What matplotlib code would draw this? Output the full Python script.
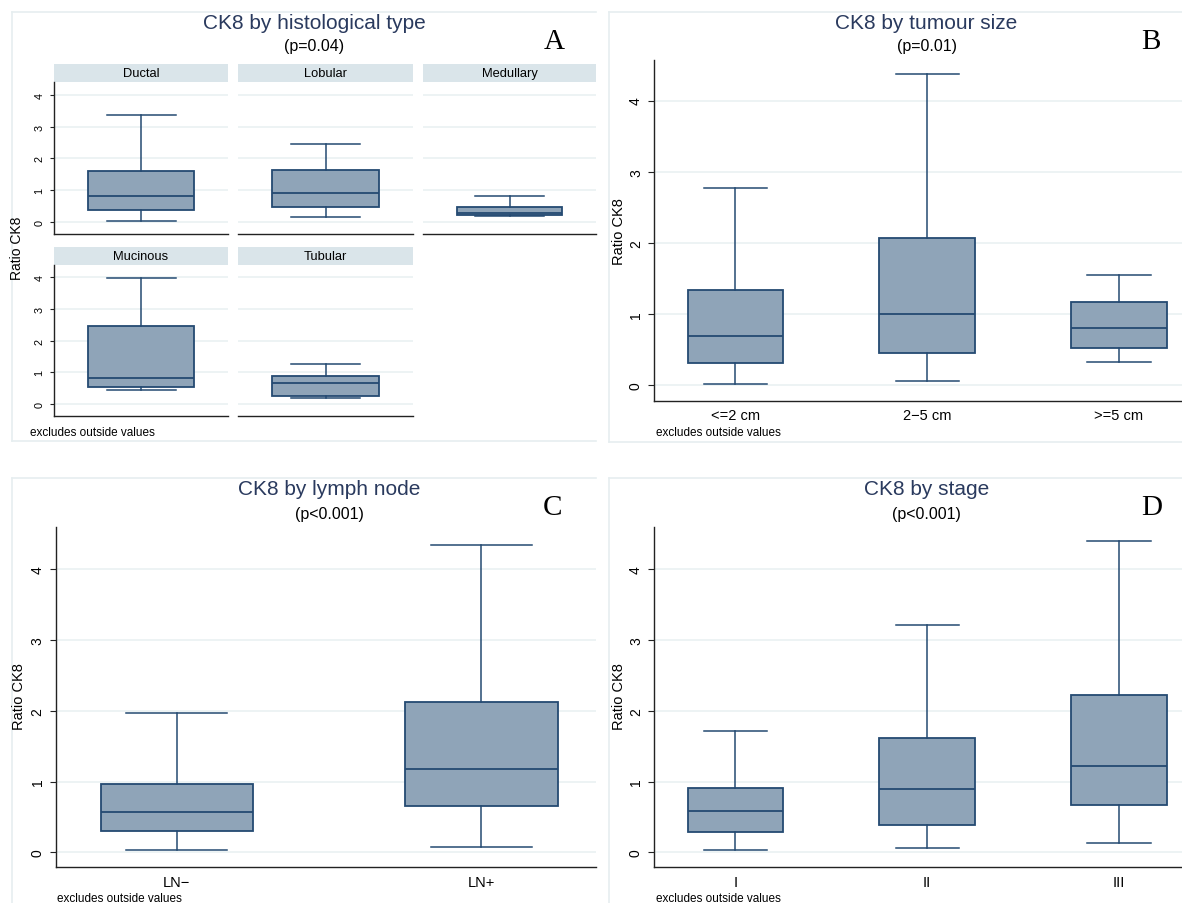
import matplotlib
matplotlib.use('Agg')
import matplotlib.pyplot as plt
from matplotlib.lines import Line2D

plt.rcParams['font.family'] = ['Liberation Sans', 'DejaVu Sans']

W, H = 1182, 904

# ---- data ----
type_labels = ['Ductal', 'Lobular', 'Medullary', 'Mucinous', 'Tubular']
type_low = [0.03, 0.15, 0.20, 0.43, 0.18]
type_q1 = [0.38, 0.47, 0.22, 0.52, 0.25]
type_med = [0.83, 0.92, 0.28, 0.81, 0.64]
type_q3 = [1.60, 1.62, 0.47, 2.46, 0.89]
type_high = [3.35, 2.46, 0.80, 3.98, 1.26]

size_labels = ['<=2 cm', '2\u22125 cm', '>=5 cm']
size_low = [0.02, 0.06, 0.33]
size_q1 = [0.32, 0.45, 0.53]
size_med = [0.69, 1.00, 0.80]
size_q3 = [1.34, 2.07, 1.165]
size_high = [2.77, 4.37, 1.55]

node_labels = ['LN\u2212', 'LN+']
node_low = [0.03, 0.08]
node_q1 = [0.30, 0.65]
node_med = [0.57, 1.17]
node_q3 = [0.97, 2.13]
node_high = [1.97, 4.34]

stage_labels = ['I', 'II', 'III']
stage_low = [0.03, 0.06, 0.13]
stage_q1 = [0.29, 0.39, 0.67]
stage_med = [0.58, 0.90, 1.22]
stage_q3 = [0.905, 1.61, 2.22]
stage_high = [1.71, 3.21, 4.40]

yticks = [0, 1, 2, 3, 4]

# ---- styles ----
FILL = '#8fa4b8'
EDGE = '#244a72'
GRID = '#e8f0f1'
STRIP = '#dae5ea'
FRAME = '#e6eef0'
TITLE = '#2a3a5e'
AXC = '#222222'

fig = plt.figure(figsize=(W / 100, H / 100), dpi=100)


def px_axes(left, top, right, bottom, **kw):
    return fig.add_axes([left / W, 1 - bottom / H, (right - left) / W, (bottom - top) / H], **kw)


def ftext(x, y, s, **kw):
    fig.text(x / W, 1 - y / H, s, **kw)


def frame(left, top, right, bottom):
    # left, top and bottom edges only; the right side is cut off in the reference
    for xs, ys in [([left, left], [top, bottom]), ([left, right], [top, top]),
                   ([left, right], [bottom, bottom])]:
        fig.lines.append(Line2D([x / W for x in xs], [1 - y / H for y in ys],
                                transform=fig.transFigure, color=FRAME, lw=1.2, zorder=0))


def stats(low, q1, med, q3, high):
    return [dict(whislo=a, q1=b, med=c, q3=d, whishi=e, fliers=[])
            for a, b, c, d, e in zip(low, q1, med, q3, high)]


def boxes(ax, st, positions, width, capw):
    ax.bxp(st, positions=positions, widths=width, capwidths=capw, patch_artist=True,
           showfliers=False,
           boxprops=dict(facecolor=FILL, edgecolor=EDGE, linewidth=1.3),
           medianprops=dict(color=EDGE, linewidth=1.3),
           whiskerprops=dict(color=EDGE, linewidth=1.1),
           capprops=dict(color=EDGE, linewidth=1.1))


def style(ax, ylim, left_axis=True, fs=10.5, yfs=10, tl=4.3, pad=3.5):
    ax.set_ylim(*ylim)
    ax.set_yticks(yticks)
    for y in yticks:
        ax.axhline(y, color=GRID, lw=1.1, zorder=0)
    for s in ['top', 'right']:
        ax.spines[s].set_visible(False)
    ax.spines['bottom'].set_color(AXC)
    ax.spines['left'].set_color(AXC)
    ax.spines['bottom'].set_linewidth(1.0)
    ax.spines['left'].set_linewidth(1.0)
    ax.tick_params(axis='x', length=0, pad=5.5, labelsize=fs, colors='black')
    if left_axis:
        ax.tick_params(axis='y', length=tl, width=0.8, color=AXC, pad=pad, labelsize=yfs)
        ax.set_yticklabels([str(y) for y in yticks], rotation=90, va='center')
    else:
        ax.spines['left'].set_visible(False)
        ax.tick_params(axis='y', length=0, labelleft=False)


# ---- panel A: by histological type ----
frame(11.5, 12.7, 596, 441.7)
ftext(314, 23.5, 'CK8 by histological type', ha='center', va='center', fontsize=15, color=TITLE)
ftext(314, 47, '(p=0.04)', ha='center', va='center', fontsize=11.5)
ftext(554, 42, 'A', ha='center', va='center', fontsize=21, family='Liberation Serif')

cols = [(53.6, 228.5), (238, 413), (423, 596)]
rows = [(65.3, 83, 235), (248, 265.7, 416.7)]
for i, lab in enumerate(type_labels):
    r, c = divmod(i, 3)
    x0, x1 = cols[c]
    s0, a0, a1 = rows[r]
    sa = px_axes(x0, s0, x1, a0)
    sa.set_facecolor(STRIP)
    sa.set_xticks([])
    sa.set_yticks([])
    for sp in sa.spines.values():
        sp.set_visible(False)
    sa.text(0.5, 0.5, lab, ha='center', va='center', fontsize=9.3, transform=sa.transAxes)
    ax = px_axes(x0, a0, x1, a1)
    boxes(ax, stats(type_low[i:i + 1], type_q1[i:i + 1], type_med[i:i + 1],
                    type_q3[i:i + 1], type_high[i:i + 1]), [1], 1.22, 0.79)
    ax.set_xlim(0, 2)
    ax.set_xticks([])
    style(ax, (-0.38, 4.4), left_axis=(c == 0), fs=8, yfs=7.8, tl=3, pad=3.5)
ftext(17, 248, 'Ratio CK8', rotation=90, ha='center', va='center', fontsize=10)
ftext(30, 433, 'excludes outside values', ha='left', va='center', fontsize=8.5)

# ---- panel B: by tumour size ----
frame(609.3, 12.7, 1182, 443)
ftext(926.6, 23.5, 'CK8 by tumour size', ha='center', va='center', fontsize=15, color=TITLE)
ftext(926.6, 47, '(p=0.01)', ha='center', va='center', fontsize=11.5)
ftext(1151, 42, 'B', ha='center', va='center', fontsize=21, family='Liberation Serif')
ax = px_axes(653.8, 61, 1182, 401.7)
pos = range(1, len(size_labels) + 1)
boxes(ax, stats(size_low, size_q1, size_med, size_q3, size_high), list(pos), 0.50, 0.33)
ax.set_xlim(0.574, 1 + (1182 - 735.5) / 191.7)
ax.set_xticks(list(pos))
ax.set_xticklabels(size_labels)
style(ax, (-0.215, 4.57))
ftext(618.6, 232, 'Ratio CK8', rotation=90, ha='center', va='center', fontsize=10.5)
ftext(655.7, 433, 'excludes outside values', ha='left', va='center', fontsize=8.5)

# ---- panel C: by lymph node ----
frame(11.5, 479.3, 596, 920)
ftext(329, 490, 'CK8 by lymph node', ha='center', va='center', fontsize=15, color=TITLE)
ftext(329, 515, '(p<0.001)', ha='center', va='center', fontsize=11.5)
ftext(553, 508, 'C', ha='center', va='center', fontsize=21, family='Liberation Serif')
ax = px_axes(55.5, 527.7, 596, 868.3)
pos = range(1, len(node_labels) + 1)
boxes(ax, stats(node_low, node_q1, node_med, node_q3, node_high), list(pos), 0.50, 0.333)
ax.set_xlim(0.602, 1 + (596 - 176.8) / 304.6)
ax.set_xticks(list(pos))
ax.set_xticklabels(node_labels)
style(ax, (-0.212, 4.6))
ftext(19, 697, 'Ratio CK8', rotation=90, ha='center', va='center', fontsize=10.5)
ftext(57.4, 899, 'excludes outside values', ha='left', va='center', fontsize=8.5)

# ---- panel D: by stage ----
frame(609.3, 479.3, 1182, 920)
ftext(926.6, 490, 'CK8 by stage', ha='center', va='center', fontsize=15, color=TITLE)
ftext(926.6, 515, '(p<0.001)', ha='center', va='center', fontsize=11.5)
ftext(1152, 508, 'D', ha='center', va='center', fontsize=21, family='Liberation Serif')
ax = px_axes(653.8, 527.7, 1182, 868.3)
pos = range(1, len(stage_labels) + 1)
boxes(ax, stats(stage_low, stage_q1, stage_med, stage_q3, stage_high), list(pos), 0.50, 0.33)
ax.set_xlim(0.574, 1 + (1182 - 735.5) / 191.7)
ax.set_xticks(list(pos))
ax.set_xticklabels(stage_labels)
style(ax, (-0.212, 4.603))
ftext(618.6, 697, 'Ratio CK8', rotation=90, ha='center', va='center', fontsize=10.5)
ftext(655.7, 899, 'excludes outside values', ha='left', va='center', fontsize=8.5)

fig.savefig('out.png', dpi=100)
